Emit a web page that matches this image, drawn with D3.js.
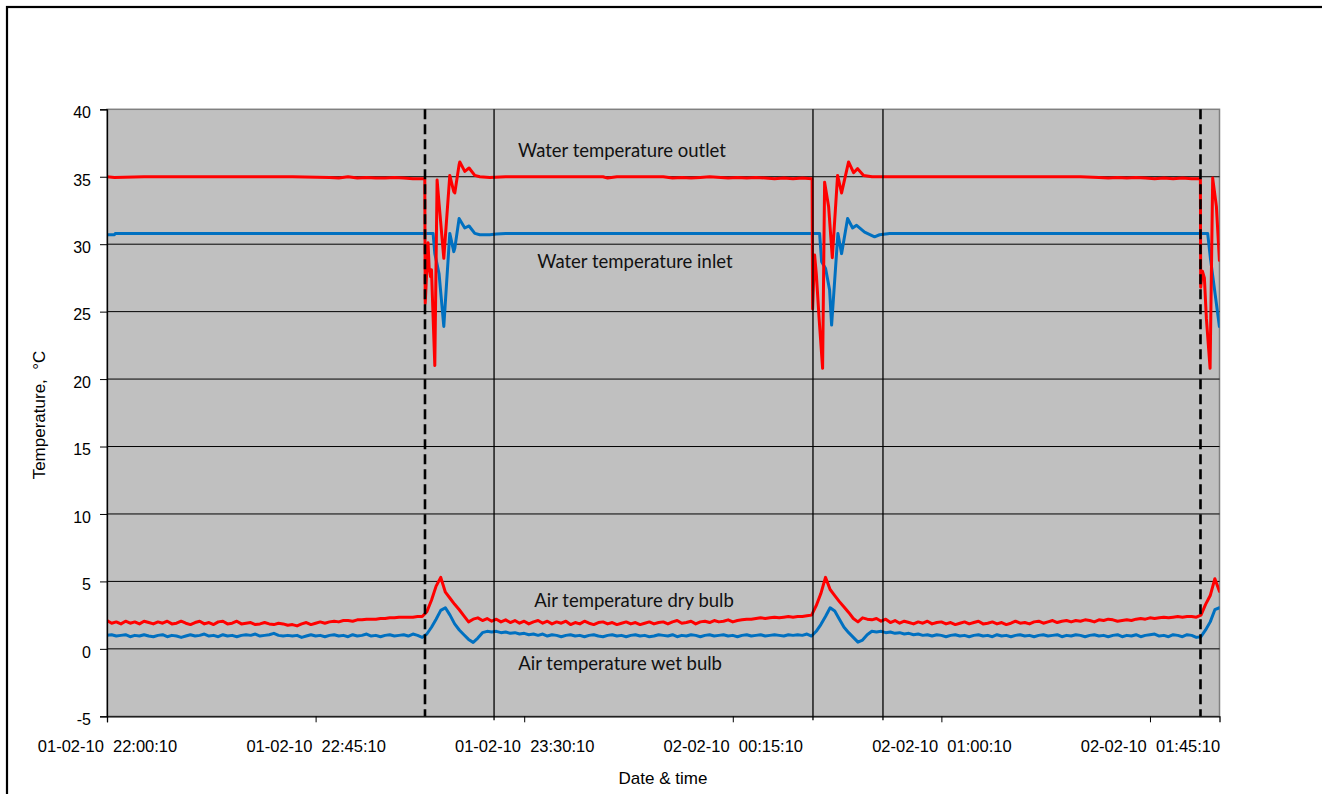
<!DOCTYPE html>
<html>
<head>
<meta charset="utf-8">
<script src="https://cdn.jsdelivr.net/npm/d3@7"></script>
<style>
  body { margin: 0; background: #fff; }
  svg { display: block; }
  .tick-x text { white-space: pre; }
</style>
</head>
<body>
<script>
// ---------------- DATA ----------------
// x: minutes after 01-02-10 22:00:10
const xTickMinutes = [0, 45, 90, 135, 180, 225];
const xTickLabels = ["01-02-10  22:00:10", "01-02-10  22:45:10", "01-02-10  23:30:10",
                     "02-02-10  00:15:10", "02-02-10  01:00:10", "02-02-10  01:45:10"];
const yTicks = [-5, 0, 5, 10, 15, 20, 25, 30, 35, 40];

// vertical event markers (minutes)
const dashedMarkers = [68.6, 235.9];
const solidMarkers = [83.5, 152.3, 167.4];

// Water temperature outlet
const outletMinutes = [0, 1.6, 8, 16, 24, 30, 40, 48, 50, 52, 54, 56, 58, 60, 62, 64, 66, 68.4,
  68.56, 68.65, 69.27, 69.49, 69.79, 70.00, 70.35, 70.72, 71.21, 71.64, 72.66, 73.95, 74.81, 75.03,
  75.96, 76.11, 77.18, 78.11, 79.34, 80.42, 82.57,
  86, 90, 100, 107, 108, 110, 120, 122, 124, 126, 128, 130, 134, 136, 138, 140, 142, 144, 146, 148, 150, 152.0,
  152.11, 152.22, 152.65, 153.02, 153.62, 154.38, 154.81, 155.67, 156.47, 157.61, 158.47, 159.98,
  161.06, 161.93, 163.22, 165.05,
  170, 180, 190, 200, 210, 214, 216, 218, 220, 222, 224, 226, 228, 230, 232, 234, 235.8,
  235.88, 235.94, 236.31, 236.74, 237.17, 237.97, 238.53, 239.33, 239.98];
const outletTemp = [35.0, 34.95, 35.0, 35.0, 35.0, 35.0, 35.0, 34.95, 34.9, 35.0, 34.9, 34.95, 34.9, 34.9, 34.95, 34.9, 34.85, 34.85,
  34.8, 25.6, 30.1, 28.3, 27.6, 28.1, 24.6, 21.0, 34.76, 33.0, 28.95, 35.1, 33.9, 33.8,
  35.9, 36.1, 35.4, 35.65, 35.1, 35.0, 34.95,
  35.0, 35.0, 35.0, 35.0, 34.9, 35.0, 35.0, 34.9, 34.95, 34.9, 34.95, 35.0, 34.9, 34.95, 34.9, 34.95, 34.9, 34.85, 34.9, 34.85, 34.9, 34.85,
  34.85, 25.2, 29.2, 27.8, 24.5, 20.8, 34.6, 32.8, 29.0, 35.1, 33.8, 36.1,
  35.3, 35.6, 35.1, 35.0,
  35.0, 35.0, 35.0, 35.0, 35.0, 34.95, 34.9, 34.95, 34.9, 34.95, 34.9, 34.85, 34.9, 34.85, 34.9, 34.85, 34.85,
  34.8, 26.8, 28.0, 27.5, 24.5, 20.8, 34.9, 32.8, 28.8];

// Water temperature inlet
const inletMinutes = [0, 1.6, 1.8, 20, 40, 60, 68.56,
  70.35, 70.72, 71.21, 71.64, 72.66, 73.95, 74.81, 75.03, 75.96, 77.18, 78.11, 79.34, 80.42, 82.57,
  84, 86, 100, 120, 140, 152.11,
  153.73, 154.16, 155.02, 155.89, 156.32, 157.68, 158.47, 159.77, 160.85, 161.71, 163.44, 165.59, 166.67, 168.83,
  190, 210, 230, 235.88, 237.45, 238.04, 239.98];
const inletTemp = [30.7, 30.7, 30.8, 30.8, 30.8, 30.8, 30.8,
  30.8, 29.3, 28.5, 27.8, 23.9, 30.8, 29.45, 29.7, 31.9, 31.2, 31.35, 30.8, 30.7, 30.7,
  30.75, 30.8, 30.8, 30.8, 30.8, 30.8,
  30.8, 28.7, 28.2, 26.6, 24.0, 30.8, 29.3, 31.9, 31.2, 31.4, 30.9, 30.55, 30.7, 30.8,
  30.8, 30.8, 30.8, 30.8, 30.8, 28.95, 23.9];

// Air temperatures, one reading per minute (0 .. 240)
const airMinutes = d3.range(0, 241);
const dryBulb = [
  2.1, 1.9, 2.0, 1.85, 2.05, 1.9, 2.0, 1.85, 2.05, 1.95,
  1.85, 2.0, 1.9, 2.05, 1.85, 1.9, 2.05, 1.9, 1.8, 1.95,
  2.05, 1.85, 1.95, 1.8, 2.0, 2.05, 1.85, 1.9, 2.05, 1.85,
  1.9, 1.95, 1.8, 1.85, 1.95, 1.85, 1.8, 1.9, 1.85, 1.75,
  1.8, 1.7, 1.85, 1.95, 1.8, 1.9, 2.0, 1.9, 2.0, 2.05,
  2.0, 2.1, 2.1, 2.05, 2.15, 2.15, 2.2, 2.2, 2.2, 2.25,
  2.25, 2.3, 2.3, 2.35, 2.35, 2.35, 2.35, 2.4, 2.4, 2.75,
  3.6, 4.65, 5.3, 4.2, 3.75, 3.3, 2.9, 2.45, 2.0, 2.2,
  2.3, 2.1, 2.25, 2.05, 2.2, 2.0, 2.15, 1.95, 2.1, 1.9,
  2.05, 1.85, 2.0, 2.1, 1.9, 2.05, 1.85, 2.0, 1.9, 2.05,
  1.8, 1.95, 1.85, 2.05, 1.9, 1.8, 1.95, 2.0, 1.85, 1.95,
  1.8, 1.9, 2.0, 1.85, 1.95, 1.8, 1.9, 2.0, 1.85, 1.95,
  2.0, 1.85, 2.0, 2.1, 1.9, 1.95, 2.05, 1.85, 2.0, 2.05,
  1.95, 2.1, 2.0, 2.05, 2.15, 2.0, 2.1, 2.15, 2.2, 2.2,
  2.25, 2.3, 2.25, 2.3, 2.35, 2.3, 2.35, 2.4, 2.35, 2.4,
  2.4, 2.45, 2.5, 3.2, 4.1, 5.3, 4.4, 3.95, 3.5, 3.1,
  2.7, 2.25, 2.0, 2.3, 2.2, 2.15, 2.25, 2.05, 2.2, 1.95,
  2.1, 1.9, 2.05, 1.95, 1.85, 2.0, 1.9, 2.05, 1.85, 1.95,
  2.0, 1.85, 1.95, 1.8, 1.9, 2.0, 1.85, 1.95, 2.05, 1.85,
  1.9, 2.0, 1.85, 1.95, 1.8, 1.9, 2.05, 1.9, 1.95, 1.85,
  2.0, 2.05, 1.9, 2.0, 2.1, 1.95, 2.05, 2.1, 2.0, 2.1,
  2.05, 2.15, 2.1, 2.0, 2.15, 2.1, 2.2, 2.15, 2.05, 2.1,
  2.15, 2.1, 2.2, 2.25, 2.2, 2.3, 2.25, 2.3, 2.35, 2.3,
  2.35, 2.4, 2.35, 2.4, 2.4, 2.35, 2.5, 3.3, 3.95, 5.2,
  4.25];
const wetBulb = [
  1.0, 1.05, 0.95, 1.0, 1.05, 0.9, 1.0, 0.95, 1.05, 0.95,
  0.9, 1.0, 1.05, 0.9, 1.0, 0.95, 0.85, 0.95, 1.05, 0.95,
  1.0, 1.1, 0.95, 1.0, 0.9, 1.05, 0.95, 1.0, 0.9, 1.0,
  1.05, 1.0, 1.1, 0.95, 1.0, 1.05, 1.15, 1.0, 0.95, 1.0,
  0.95, 1.0, 0.85, 0.95, 1.05, 0.95, 1.0, 0.9, 1.0, 1.05,
  0.95, 1.0, 0.9, 1.05, 0.95, 1.0, 1.1, 0.95, 1.0, 0.9,
  1.0, 1.05, 0.95, 1.0, 1.05, 0.95, 1.1, 1.0, 0.85, 1.1,
  1.6, 2.2, 2.85, 3.05, 2.5, 1.85, 1.4, 1.05, 0.7, 0.48,
  0.8, 1.2, 1.3, 1.25, 1.3, 1.2, 1.25, 1.15, 1.2, 1.1,
  1.15, 1.05, 1.1, 1.0, 1.1, 0.95, 1.05, 1.0, 0.9, 1.0,
  1.05, 0.95, 1.0, 0.9, 1.0, 1.05, 0.95, 0.9, 1.0, 1.05,
  0.95, 1.0, 0.9, 1.0, 1.05, 0.95, 1.0, 0.9, 0.95, 1.05,
  1.0, 0.95, 1.05, 0.9, 1.0, 0.95, 1.05, 1.0, 0.9, 1.0,
  1.05, 0.95, 1.0, 1.05, 0.95, 1.0, 0.9, 1.0, 1.05, 0.95,
  1.0, 1.05, 0.95, 1.0, 1.05, 1.0, 0.95, 1.05, 1.0, 1.05,
  1.0, 1.1, 0.95, 1.3, 1.8, 2.4, 3.05, 2.8, 2.2, 1.6,
  1.2, 0.85, 0.5, 0.65, 1.05, 1.3, 1.25, 1.3, 1.2, 1.25,
  1.15, 1.2, 1.1, 1.15, 1.05, 1.1, 1.0, 1.05, 0.95, 1.05,
  1.0, 0.9, 1.0, 1.05, 0.95, 1.0, 0.9, 1.0, 1.05, 0.95,
  1.0, 0.9, 1.05, 0.95, 1.0, 0.9, 1.0, 1.05, 0.95, 1.0,
  0.9, 1.0, 1.05, 0.95, 1.0, 1.05, 0.9, 1.0, 0.95, 1.05,
  1.0, 0.9, 1.0, 1.05, 0.95, 1.0, 0.9, 1.0, 1.05, 0.9,
  1.0, 0.95, 1.05, 0.9, 1.0, 1.05, 1.1, 0.95, 1.0, 0.9,
  1.05, 1.0, 0.9, 1.05, 1.0, 0.85, 0.9, 1.4, 2.0, 2.9,
  3.05];

const seriesLabels = ["Water temperature outlet", "Water temperature inlet",
                      "Air temperature dry bulb", "Air temperature wet bulb"];
const yAxisTitle = "Temperature,  \u00B0C";
const xAxisTitle = "Date & time";

// ---------------- LAYOUT ----------------
const W = 1322, H = 794;
const plot = { left: 107, right: 1219.5, top: 109.3, bottom: 716.3 };
const RED = "#FF0000", BLUE = "#0070C0";

const x = d3.scaleLinear().domain([0, 240]).range([plot.left, plot.right]);
const y = d3.scaleLinear().domain([-5, 40]).range([plot.bottom, plot.top]);

const svg = d3.select("body").append("svg").attr("width", W).attr("height", H);

// outer chart border
svg.append("rect").attr("x", 7).attr("y", 7).attr("width", 1340).attr("height", 820)
  .attr("fill", "#fff").attr("stroke", "#000").attr("stroke-width", 2.2);

// plot area
svg.append("rect").attr("x", plot.left).attr("y", plot.top)
  .attr("width", plot.right - plot.left).attr("height", plot.bottom - plot.top)
  .attr("fill", "#C0C0C0").attr("stroke", "#808080").attr("stroke-width", 1.5);

// horizontal gridlines
svg.append("g").selectAll("line").data(yTicks.filter(v => v > -5 && v < 40)).join("line")
  .attr("x1", plot.left).attr("x2", plot.right)
  .attr("y1", d => y(d)).attr("y2", d => y(d))
  .attr("stroke", "#000").attr("stroke-width", 1);

const clip = svg.append("clipPath").attr("id", "clip").append("rect")
  .attr("x", plot.left).attr("y", plot.top - 5)
  .attr("width", plot.right - plot.left).attr("height", plot.bottom - plot.top + 10);

const series = svg.append("g").attr("clip-path", "url(#clip)");
const line = d3.line().x(d => x(d[0])).y(d => y(d[1])).curve(d3.curveLinear);

function drawSeries(ts, vs, color) {
  series.append("path").datum(d3.zip(ts, vs))
    .attr("d", line).attr("fill", "none")
    .attr("stroke", color).attr("stroke-width", 3)
    .attr("stroke-linejoin", "round").attr("stroke-linecap", "round");
}
drawSeries(airMinutes, wetBulb, BLUE);
drawSeries(airMinutes, dryBulb, RED);
drawSeries(inletMinutes, inletTemp, BLUE);
drawSeries(outletMinutes, outletTemp, RED);

// event markers
svg.append("g").selectAll("line").data(solidMarkers).join("line")
  .attr("x1", d => x(d)).attr("x2", d => x(d))
  .attr("y1", plot.top).attr("y2", plot.bottom + 4)
  .attr("stroke", "#000").attr("stroke-width", 1.3);
svg.append("g").selectAll("line").data(dashedMarkers).join("line")
  .attr("x1", d => x(d)).attr("x2", d => x(d))
  .attr("y1", plot.top).attr("y2", plot.bottom)
  .attr("stroke", "#000").attr("stroke-width", 2.6)
  .attr("stroke-dasharray", "10,5");

// axes
const yAxis = d3.axisLeft(y).tickValues(yTicks).tickSize(7).tickPadding(9).tickFormat(d => String(d));
const gy = svg.append("g").attr("transform", `translate(${plot.left},0)`).call(yAxis);
gy.select(".domain").attr("stroke", "#000").attr("stroke-width", 1.3);
gy.selectAll(".tick line").attr("stroke", "#000");
gy.selectAll(".tick text").attr("font-family", "'Liberation Sans', Arial, sans-serif")
  .attr("font-size", 16).attr("fill", "#000").attr("dy", "0.52em");

const xAxis = d3.axisBottom(x).tickValues(xTickMinutes).tickSize(6).tickPadding(0)
  .tickFormat((d, i) => xTickLabels[i]);
const gx = svg.append("g").attr("transform", `translate(0,${plot.bottom})`).call(xAxis);
gx.select(".domain").attr("stroke", "#000").attr("stroke-width", 1.3);
gx.selectAll(".tick line").attr("stroke", "#000");
gx.selectAll(".tick text").attr("font-family", "'Liberation Sans', Arial, sans-serif")
  .attr("font-size", 16.5).attr("fill", "#000").attr("dy", 0).attr("y", 36)
  .style("white-space", "pre");

// axis titles
svg.append("text").attr("transform", "translate(45,415) rotate(-90)")
  .attr("text-anchor", "middle").attr("font-family", "'Liberation Sans', Arial, sans-serif")
  .attr("font-size", 17).style("white-space", "pre").text(yAxisTitle);
svg.append("text").attr("x", 663).attr("y", 784)
  .attr("text-anchor", "middle").attr("font-family", "'Liberation Sans', Arial, sans-serif")
  .attr("font-size", 17).text(xAxisTitle);

// series annotations (anchored in data coordinates)
const labelAnchors = [[111.1, 36.45], [113.9, 28.2], [113.7, 3.1], [110.7, -1.55]];
svg.append("g").selectAll("text").data(seriesLabels).join("text")
  .attr("x", (d, i) => x(labelAnchors[i][0]))
  .attr("y", (d, i) => y(labelAnchors[i][1]))
  .attr("text-anchor", "middle")
  .attr("font-family", "Lato, 'Open Sans', sans-serif")
  .attr("font-size", 18.5).attr("fill", "#111")
  .text(d => d);
</script>
</body>
</html>
